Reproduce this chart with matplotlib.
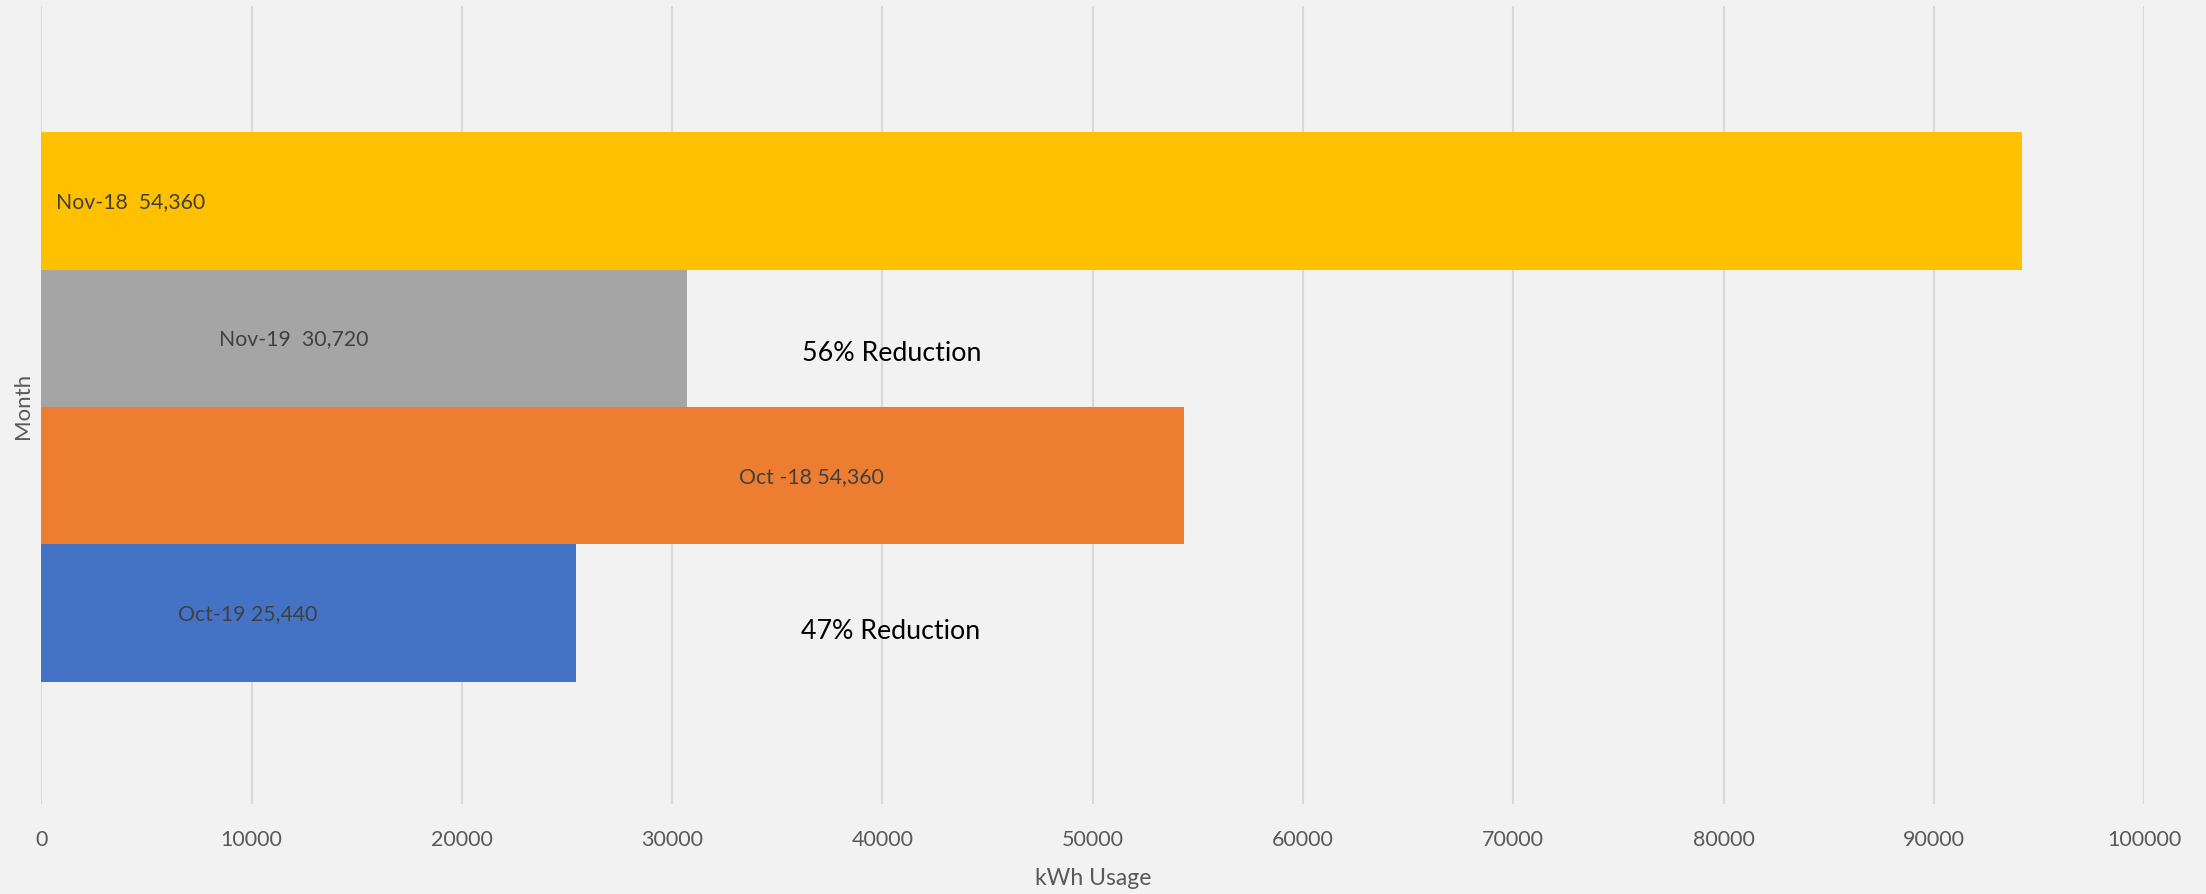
import matplotlib.pyplot as plt

plt.rcParams['font.family'] = ['Lato', 'DejaVu Sans']

# bars from bottom to top
months = ['Oct-19', 'Oct -18', 'Nov-19', 'Nov-18']
usage = [25440, 54360, 30720, 94200]
label_text = ['Oct-19 25,440', 'Oct -18 54,360', 'Nov-19  30,720', 'Nov-18  54,360']
label_x = [9800, 36640, 11980, 700]
colors = ['#4472C4', '#ED7D31', '#A5A5A5', '#FFC000']

notes = ['47% Reduction', '56% Reduction']
note_x = [40400, 40450]
note_y = [-0.13, 1.9]

fig = plt.figure(figsize=(22.06, 8.95), dpi=100, facecolor='#F2F2F2')
ax = fig.add_axes([0.0188, 0.1006, 0.9531, 0.8916])
ax.set_facecolor('#F2F2F2')

pos = list(range(len(months)))
ax.barh(pos, usage, height=1.0, color=colors, zorder=2)

for i in pos:
    ha = 'left' if i == 3 else 'center'
    ax.text(label_x[i], i, label_text[i], ha=ha, va='center',
            fontsize=15.3, color='#404040', zorder=3)

for t, x, y in zip(notes, note_x, note_y):
    ax.text(x, y, t, ha='center', va='center', fontsize=19.3, color='#000000', zorder=3)

ax.set_xlim(0, 100000)
ax.set_ylim(-1.39, 4.42)
ax.set_xticks(range(0, 100001, 10000))
ax.set_yticks([])
ax.grid(axis='x', color='#D9D9D9', linewidth=1.5)
ax.set_axisbelow(True)
for s in ax.spines.values():
    s.set_visible(False)
ax.tick_params(axis='x', length=0, labelsize=15.5, labelcolor='#595959', pad=18)

ax.set_xlabel('kWh Usage', fontsize=16.5, color='#595959', labelpad=13)
ax.set_ylabel('Month', fontsize=16, color='#595959', labelpad=6)

fig.savefig('out.png', dpi=100, facecolor='#F2F2F2')
